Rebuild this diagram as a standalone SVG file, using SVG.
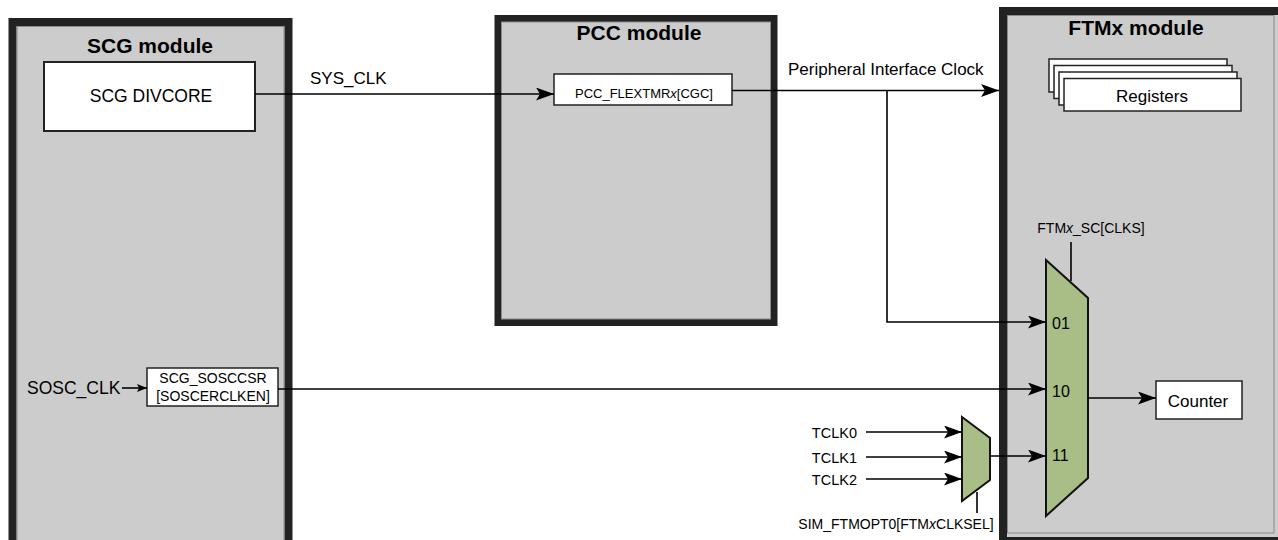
<svg xmlns="http://www.w3.org/2000/svg" width="1278" height="540" viewBox="0 0 1278 540">
<defs>
<style>
.mod{fill:#cccccc;stroke:#222222;stroke-width:8}
.modin{fill:none;stroke:#8a8a8a;stroke-width:1}
.box{fill:#ffffff;stroke:#222222;stroke-width:2}
.sbox{fill:#ffffff;stroke:#222222;stroke-width:1.5}
.mux{fill:#a9bd87;stroke:#111111;stroke-width:2}
.ln{fill:none;stroke:#000000;stroke-width:1.6}
.t{font-family:"Liberation Sans",Arial,Helvetica,sans-serif;fill:#000000}
.title{font-size:21px;font-weight:bold;text-anchor:middle}
</style>
<marker id="ah" markerWidth="18" markerHeight="13" refX="18" refY="6.5" orient="auto" markerUnits="userSpaceOnUse">
<path d="M0,0 L18,6.5 L0,13 L4,6.5 Z" fill="#000"/>
</marker>
<marker id="ahs" markerWidth="10" markerHeight="8" refX="10" refY="4" orient="auto" markerUnits="userSpaceOnUse">
<path d="M0,0 L10,4 L0,8 L2,4 Z" fill="#000"/>
</marker>
</defs>

<g id="scg-module">
<rect class="mod" x="12.5" y="22" width="276" height="524"/>
<rect class="modin" x="17" y="26.5" width="267" height="515"/>
<text class="t title" x="150" y="53">SCG module</text>
</g>

<g id="pcc-module">
<rect class="mod" x="498" y="18.5" width="276" height="304" style="stroke-width:7"/>
<rect class="modin" x="501.5" y="22" width="269" height="297"/>
<text class="t title" x="639" y="40">PCC module</text>
</g>

<g id="ftm-module">
<rect class="mod" x="1003" y="11" width="280" height="530"/>
<rect class="modin" x="1007.5" y="15.5" width="266.5" height="517.5"/>
<text class="t title" x="1136" y="35">FTMx module</text>
</g>

<g id="scg-divcore">
<rect class="box" x="44" y="62" width="211" height="69"/>
<text class="t" x="151" y="102" font-size="17.5" text-anchor="middle">SCG DIVCORE</text>
</g>

<g id="pcc-flextmr">
<rect class="sbox" x="554" y="74" width="178" height="31"/>
<text class="t" x="644" y="98" font-size="13" text-anchor="middle">PCC_FLEXTMR<tspan font-style="italic">x</tspan>[CGC]</text>
</g>

<g id="scg-sosccsr">
<rect class="sbox" x="147" y="368" width="131" height="38"/>
<text class="t" x="213" y="383" font-size="14" text-anchor="middle">SCG_SOSCCSR</text>
<text class="t" x="213" y="401" font-size="14" text-anchor="middle">[SOSCERCLKEN]</text>
</g>

<g id="registers">
<rect class="sbox" x="1049" y="59" width="178" height="33"/>
<rect class="sbox" x="1054" y="65.5" width="178" height="33"/>
<rect class="sbox" x="1059" y="72" width="178" height="33"/>
<rect class="sbox" x="1064" y="78.5" width="177" height="32.5"/>
<text class="t" x="1152" y="102" font-size="17" text-anchor="middle">Registers</text>
</g>

<g id="counter">
<rect class="sbox" x="1156" y="381" width="86" height="38"/>
<text class="t" x="1198" y="407" font-size="17" text-anchor="middle">Counter</text>
</g>

<g id="ftm-mux">
<polygon class="mux" points="1046,260 1088,298 1088,478 1046,516"/>
<text class="t" x="1052" y="329" font-size="16">01</text>
<text class="t" x="1052" y="397" font-size="16">10</text>
<text class="t" x="1052" y="461" font-size="16">11</text>
</g>

<g id="tclk-mux">
<polygon class="mux" points="962,417 990,438 990,480 962,501"/>
</g>

<g id="connectors">
<line class="ln" x1="255" y1="94" x2="554" y2="94" marker-end="url(#ah)"/>
<line class="ln" x1="732" y1="90.5" x2="999" y2="90.5" marker-end="url(#ah)"/>
<polyline class="ln" points="887,90.5 887,322 1046,322" marker-end="url(#ah)"/>
<line class="ln" x1="122" y1="388" x2="147" y2="388" marker-end="url(#ahs)"/>
<line class="ln" x1="278" y1="389" x2="1046" y2="389" marker-end="url(#ah)"/>
<line class="ln" x1="1088" y1="398" x2="1156" y2="398" marker-end="url(#ah)"/>
<line class="ln" x1="990" y1="456" x2="1046" y2="456" marker-end="url(#ah)"/>
<line class="ln" x1="866" y1="432" x2="962" y2="432" marker-end="url(#ah)"/>
<line class="ln" x1="866" y1="457" x2="962" y2="457" marker-end="url(#ah)"/>
<line class="ln" x1="866" y1="479" x2="962" y2="479" marker-end="url(#ah)"/>
<line class="ln" x1="1071" y1="242" x2="1071" y2="281"/>
<line class="ln" x1="977" y1="492" x2="977" y2="513"/>
</g>

<g id="labels">
<text class="t" x="310" y="84" font-size="17">SYS_CLK</text>
<text class="t" x="788" y="75" font-size="17">Peripheral Interface Clock</text>
<text class="t" x="27" y="394" font-size="17.5">SOSC_CLK</text>
<text class="t" x="1091" y="233" font-size="14" text-anchor="middle">FTM<tspan font-style="italic">x</tspan>_SC[CLKS]</text>
<text class="t" x="857" y="438" font-size="14.5" text-anchor="end">TCLK0</text>
<text class="t" x="857" y="463" font-size="14.5" text-anchor="end">TCLK1</text>
<text class="t" x="857" y="485" font-size="14.5" text-anchor="end">TCLK2</text>
<text class="t" x="896" y="529" font-size="14" text-anchor="middle">SIM_FTMOPT0[FTM<tspan font-style="italic">x</tspan>CLKSEL]</text>
</g>
</svg>
